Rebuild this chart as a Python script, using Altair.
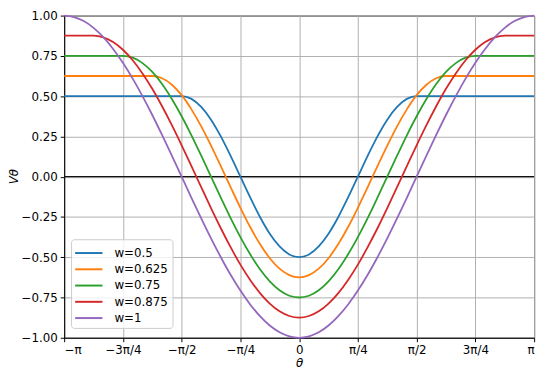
import json
import numpy as np
import pandas as pd
import altair as alt

# sample positions: theta = k*pi/24, k = -24..24
THETA = list(np.linspace(-np.pi, np.pi, 49))

W_LABELS = ["w=0.5", "w=0.625", "w=0.75", "w=0.875", "w=1"]
COLORS = ["#1f77b4", "#ff7f0e", "#2ca02c", "#d62728", "#9467bd"]

V_05 = [0.5, 0.5, 0.5, 0.5, 0.5, 0.5, 0.5, 0.5, 0.5, 0.5, 0.5, 0.5,
        0.5, 0.483, 0.433, 0.354, 0.25, 0.129, 0.0, -0.129, -0.25, -0.354, -0.433, -0.483,
        -0.5,
        -0.483, -0.433, -0.354, -0.25, -0.129, 0.0, 0.129, 0.25, 0.354, 0.433, 0.483, 0.5,
        0.5, 0.5, 0.5, 0.5, 0.5, 0.5, 0.5, 0.5, 0.5, 0.5, 0.5, 0.5]
V_0625 = [0.625, 0.625, 0.625, 0.625, 0.625, 0.625, 0.625, 0.625, 0.625,
          0.625, 0.611, 0.571, 0.506, 0.418, 0.3125, 0.193, 0.065, -0.065, -0.193, -0.3125, -0.418, -0.506, -0.571, -0.611,
          -0.625,
          -0.611, -0.571, -0.506, -0.418, -0.3125, -0.193, -0.065, 0.065, 0.193, 0.3125, 0.418, 0.506, 0.571, 0.611, 0.625,
          0.625, 0.625, 0.625, 0.625, 0.625, 0.625, 0.625, 0.625, 0.625]
V_075 = [0.75, 0.75, 0.75, 0.75, 0.75, 0.75,
         0.75, 0.739, 0.705, 0.650, 0.575, 0.482, 0.375, 0.257, 0.130, 0.0, -0.130, -0.257, -0.375, -0.482, -0.575, -0.650, -0.705, -0.739,
         -0.75,
         -0.739, -0.705, -0.650, -0.575, -0.482, -0.375, -0.257, -0.130, 0.0, 0.130, 0.257, 0.375, 0.482, 0.575, 0.650, 0.705, 0.739, 0.75,
         0.75, 0.75, 0.75, 0.75, 0.75, 0.75]
V_0875 = [0.875, 0.875, 0.875,
          0.875, 0.865, 0.836, 0.788, 0.723, 0.641, 0.546, 0.4375, 0.320, 0.195, 0.065, -0.065, -0.195, -0.320, -0.4375, -0.546, -0.641, -0.723, -0.788, -0.836, -0.865,
          -0.875,
          -0.865, -0.836, -0.788, -0.723, -0.641, -0.546, -0.4375, -0.320, -0.195, -0.065, 0.065, 0.195, 0.320, 0.4375, 0.546, 0.641, 0.723, 0.788, 0.836, 0.865, 0.875,
          0.875, 0.875, 0.875]
V_1 = [1.0, 0.991, 0.966, 0.924, 0.866, 0.793, 0.707, 0.609, 0.5, 0.383, 0.259, 0.131, 0.0,
       -0.131, -0.259, -0.383, -0.5, -0.609, -0.707, -0.793, -0.866, -0.924, -0.966, -0.991,
       -1.0,
       -0.991, -0.966, -0.924, -0.866, -0.793, -0.707, -0.609, -0.5, -0.383, -0.259, -0.131, 0.0,
       0.131, 0.259, 0.383, 0.5, 0.609, 0.707, 0.793, 0.866, 0.924, 0.966, 0.991, 1.0]

SERIES = [V_05, V_0625, V_075, V_0875, V_1]

X_TICKS = [-np.pi + i * np.pi / 4 for i in range(9)]
X_TICK_LABELS = ["−π", "−3π/4", "−π/2", "−π/4", "0", "π/4", "π/2", "3π/4", "π"]
Y_TICKS = [-1.0, -0.75, -0.5, -0.25, 0.0, 0.25, 0.5, 0.75, 1.0]

rows = []
for lab, vals in zip(W_LABELS, SERIES):
    for i, (t, v) in enumerate(zip(THETA, vals)):
        rows.append({"theta": t, "V": v, "w": lab, "i": i})
df = pd.DataFrame(rows)

FONT = "DejaVu Sans"
label_expr = json.dumps(X_TICK_LABELS, ensure_ascii=False) + "[round(datum.value/(PI/4))+4]"

lines = alt.Chart(df).mark_line(strokeWidth=1.8, interpolate="monotone").encode(
    x=alt.X("theta:Q",
            scale=alt.Scale(domain=[-np.pi, np.pi], nice=False, zero=False),
            axis=alt.Axis(values=X_TICKS, labelExpr=label_expr, title="θ",
                          titleFontStyle="italic", titlePadding=2, labelPadding=3)),
    y=alt.Y("V:Q",
            scale=alt.Scale(domain=[-1, 1], nice=False, zero=False),
            axis=alt.Axis(values=Y_TICKS, format=".2f", title="Vθ",
                          titleFontStyle="italic", titleAngle=270, titleX=-44, titleY=163,
                          titleAlign="center", titleBaseline="bottom", labelPadding=3)),
    color=alt.Color("w:N", sort=W_LABELS,
                    scale=alt.Scale(domain=W_LABELS, range=COLORS),
                    legend=alt.Legend(title=None, orient="none", legendX=7, legendY=227,
                                      symbolType="M-1.6,0H1.6", symbolSize=300, symbolStrokeWidth=2,
                                      symbolOffset=4, labelOffset=16, rowPadding=0.5, padding=4,
                                      strokeColor="#cccccc", fillColor="rgba(255,255,255,0.8)",
                                      cornerRadius=3, labelFontSize=12, labelFont=FONT,
                                      labelColor="black")),
    order="i:Q",
    detail="w:N",
)

zero = alt.Chart(pd.DataFrame({"y": [0.0]})).mark_rule(color="#111111", strokeWidth=1.2).encode(
    y=alt.Y("y:Q")
)

chart = alt.layer(zero, lines).properties(
    width=477, height=327,
    autosize=alt.AutoSizeParams(type="none"),
    padding={"left": 57, "top": 5, "right": 8, "bottom": 30},
).configure(
    font=FONT
).configure_view(
    stroke="black", strokeWidth=1
).configure_axis(
    grid=True, gridColor="#b0b0b0", gridWidth=1,
    domainColor="black", domainWidth=1, tickColor="black", tickSize=4, tickWidth=1,
    labelFont=FONT, labelFontSize=12, labelColor="black",
    titleFont=FONT, titleFontSize=12, titleColor="black", titleFontWeight="normal",
)

chart.save("out.html", embed_options={"renderer": "svg", "actions": False})
